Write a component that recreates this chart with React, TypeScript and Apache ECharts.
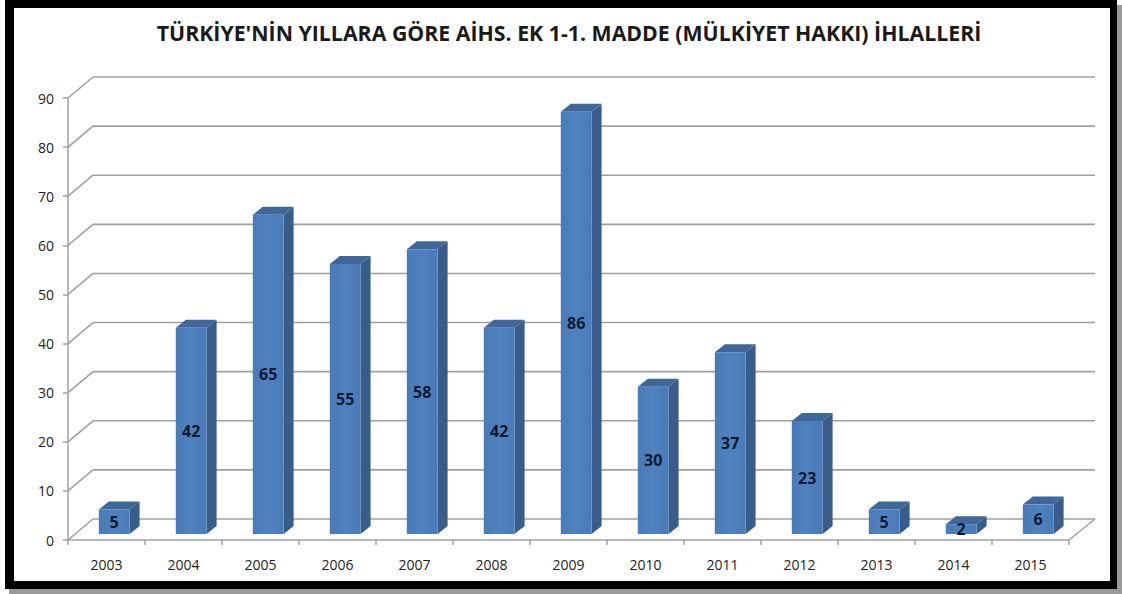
import React, { useEffect, useRef } from "react";
import * as echarts from "echarts";

const years = ["2003", "2004", "2005", "2006", "2007", "2008", "2009", "2010", "2011", "2012", "2013", "2014", "2015"];
const values = [5, 42, 65, 55, 58, 42, 86, 30, 37, 23, 5, 2, 6];
const yTicks = [0, 10, 20, 30, 40, 50, 60, 70, 80, 90];
const titleText = "TÜRKİYE'NİN YILLARA GÖRE AİHS. EK 1-1. MADDE (MÜLKİYET HAKKI) İHLALLERİ";

const FONT = '"Open Sans", "DejaVu Sans", sans-serif';
const GRID_COLOR = "#a0a0a0";

export default function App() {
  const ref = useRef<HTMLDivElement>(null);
  useEffect(() => {
    document.body.style.margin = "0";
    const chart = echarts.init(ref.current!, null, { renderer: "svg" });
    const wallDX = 25;
    const wallDY = -21;
    const option: any = {
      animation: false,
      backgroundColor: "#ffffff",
      title: {
        text: titleText,
        left: 564,
        textAlign: "center",
        top: 17,
        textStyle: { fontFamily: FONT, fontWeight: "bold", fontSize: 21.3, color: "#1a1a1a" },
      },
      graphic: [
        { type: "rect", z: -10, shape: { x: 9, y: 5, width: 1113, height: 589 }, style: { fill: "#9a9a9a" } },
        { type: "rect", z: -9, shape: { x: 5, y: 0, width: 1112, height: 589 }, style: { fill: "#000000" } },
        { type: "rect", z: -8, shape: { x: 14, y: 8, width: 1096, height: 573 }, style: { fill: "#ffffff" } },
      ],
      grid: { left: 68, right: 53, top: 98, bottom: 54, containLabel: false },
      xAxis: {
        type: "category",
        data: years,
        boundaryGap: true,
        axisLine: { show: true, lineStyle: { color: GRID_COLOR, width: 1.5 } },
        axisTick: { show: true, length: 5, lineStyle: { color: GRID_COLOR, width: 1.5 } },
        axisLabel: { color: "#222222", fontFamily: FONT, fontSize: 14, margin: 17 },
        splitLine: { show: false },
        z: 1,
      },
      yAxis: {
        type: "value",
        min: 0,
        max: 90,
        interval: 10,
        axisLine: { show: true, lineStyle: { color: GRID_COLOR, width: 1.5 } },
        axisTick: { show: true, length: 5, lineStyle: { color: GRID_COLOR, width: 1.5 } },
        axisLabel: { color: "#222222", fontFamily: FONT, fontSize: 14, margin: 14 },
        splitLine: { show: false },
        z: 1,
      },
      series: [
        {
          type: "custom",
          z: 1,
          silent: true,
          data: yTicks.map((v) => [0, v]),
          encode: { x: 0, y: 1 },
          renderItem: (params: any, api: any) => {
            const v = api.value(1);
            const y = api.coord([0, v])[1];
            const cs = params.coordSys;
            const x0 = cs.x;
            const x1 = cs.x + cs.width;
            const ls = { stroke: GRID_COLOR, lineWidth: 1.6 };
            const children: any[] = [
              { type: "line", shape: { x1: x0, y1: y, x2: x0 + wallDX, y2: y + wallDY }, style: ls },
              { type: "line", shape: { x1: x0 + wallDX, y1: y + wallDY, x2: x1 + 26, y2: y + wallDY }, style: ls },
            ];
            if (v === 0) {
              children.push({ type: "line", shape: { x1: x1, y1: y, x2: x1 + 26, y2: y + wallDY }, style: ls });
            }
            return { type: "group", children };
          },
        },
        {
          type: "custom",
          z: 3,
          data: values.map((v, i) => [i, v]),
          encode: { x: 0, y: 1 },
          renderItem: (params: any, api: any) => {
            const i = api.value(0);
            const v = api.value(1);
            const base = api.coord([i, 0]);
            const top = api.coord([i, v]);
            const band = api.size([1, 0])[0];
            const w = band * 0.4;
            const ox = band * 0.1;
            const oy = -6;
            const dx = 10;
            const dy = -8;
            const cx = base[0] + ox;
            const xa = cx - w / 2;
            const xb = cx + w / 2;
            const yb = base[1] + oy;
            const yt = top[1] + oy;
            return {
              type: "group",
              children: [
                {
                  type: "polygon",
                  shape: { points: [[xb, yt], [xb + dx, yt + dy], [xb + dx, yb + dy], [xb, yb]] },
                  style: { fill: "#385d8a" },
                },
                {
                  type: "polygon",
                  shape: { points: [[xa, yt], [xb, yt], [xb + dx, yt + dy], [xa + dx, yt + dy]] },
                  style: { fill: "#3f6798" },
                },
                {
                  type: "rect",
                  shape: { x: xa, y: yt, width: w, height: yb - yt },
                  style: {
                    fill: new echarts.graphic.LinearGradient(0, 0, 1, 0, [
                      { offset: 0, color: "#4a7ab8" },
                      { offset: 0.5, color: "#4f82c0" },
                      { offset: 1, color: "#4a7ab8" },
                    ]),
                  },
                },
                {
                  type: "text",
                  style: {
                    text: String(v),
                    x: cx,
                    y: (yt + yb) / 2,
                    align: "center",
                    verticalAlign: "middle",
                    fontFamily: FONT,
                    fontWeight: "bold",
                    fontSize: 16,
                    fill: "#0f1a30",
                  },
                },
              ],
            };
          },
        },
      ],
    };
    chart.setOption(option);
    return () => chart.dispose();
  }, []);
  return <div ref={ref} style={{ width: 1122, height: 594 }} />;
}
